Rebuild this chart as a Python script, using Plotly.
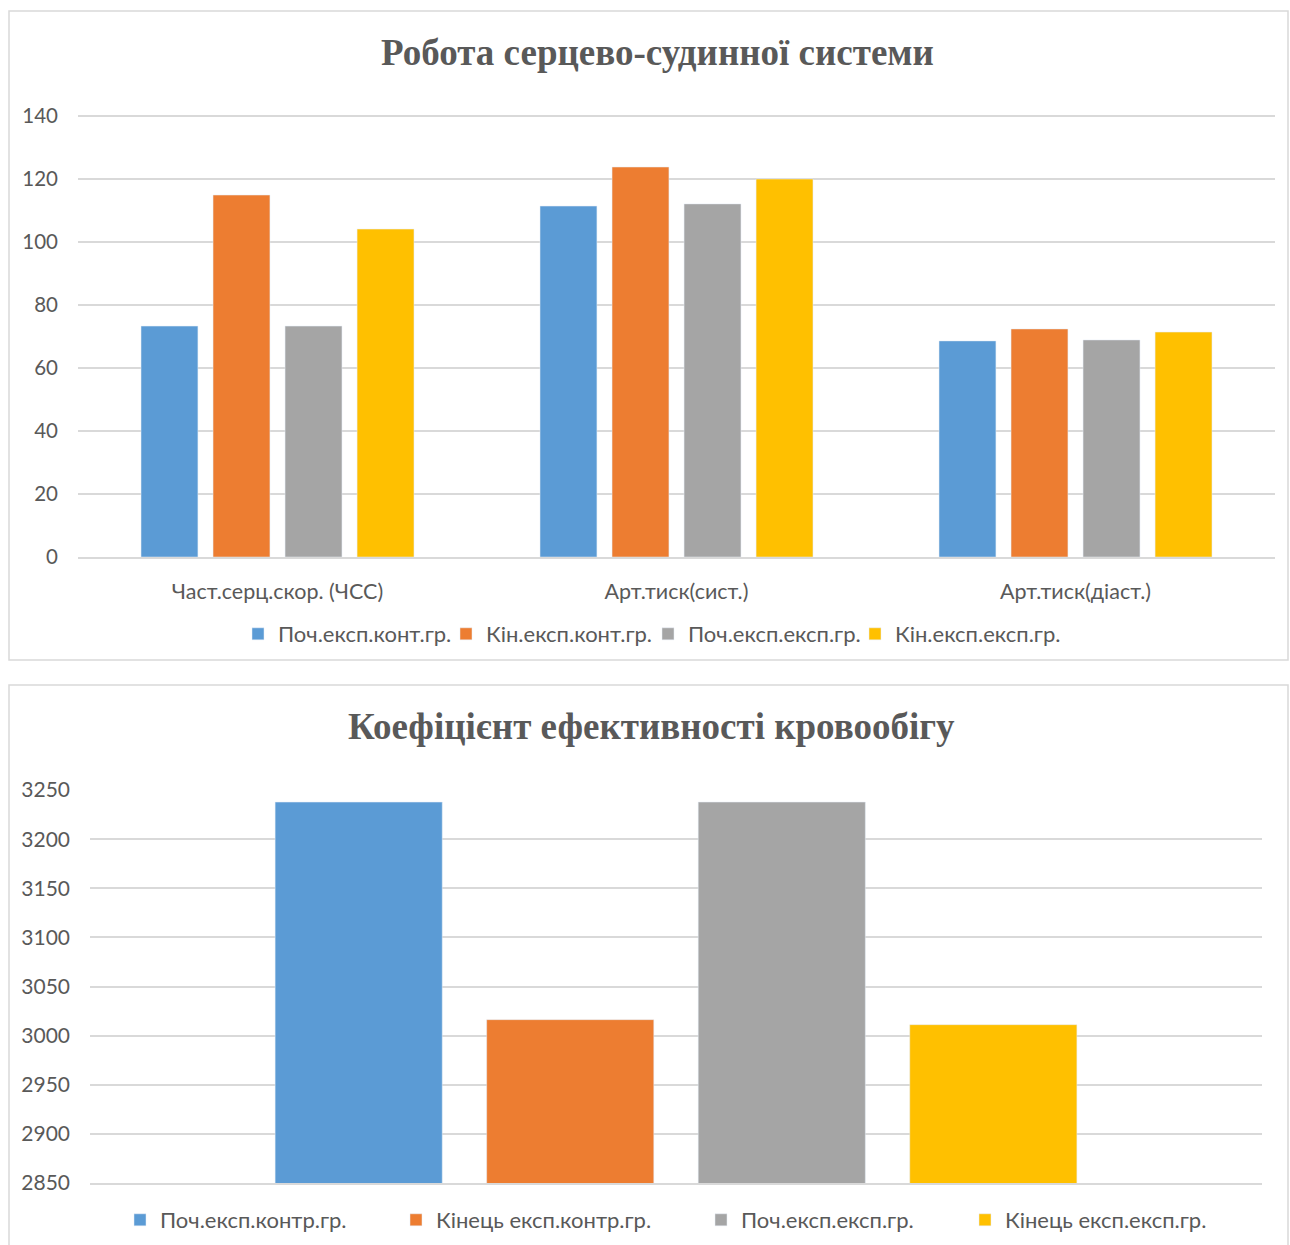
import plotly.graph_objects as go

W, H = 1290, 1245

# ---------- data ----------
title1 = "Робота серцево-судинної системи"
categories1 = ["Част.серц.скор. (ЧСС)", "Арт.тиск(сист.)", "Арт.тиск(діаст.)"]
series1_names = ["Поч.експ.конт.гр.", "Кін.експ.конт.гр.", "Поч.експ.експ.гр.", "Кін.експ.експ.гр."]
pocz_kont = [73.3, 111.4, 68.6]
kin_kont = [114.9, 123.8, 72.4]
pocz_eksp = [73.3, 112.1, 68.9]
kin_eksp = [104.1, 120.0, 71.4]
series1_values = [pocz_kont, kin_kont, pocz_eksp, kin_eksp]

title2 = "Коефіцієнт ефективності кровообігу"
category2 = ["КЕК"]
series2_names = ["Поч.експ.контр.гр.", "Кінець експ.контр.гр.", "Поч.експ.експ.гр.", "Кінець експ.експ.гр."]
kek_values = [3237.8, 3016.3, 3237.8, 3011.2]

colors = ["#5B9BD5", "#ED7D31", "#A5A5A5", "#FFC000"]
TXT = "#595959"
GRID = "#D9D9D9"
FONT = "Lato"

# legend text start positions (px) for each entry
legend1_text_x = [279, 487, 689, 896]
legend2_text_x = [161, 437, 742, 1006]


def px_x(p):
    return p / W


def px_y(p):
    return 1 - p / H


fig = go.Figure()
layout_legends = {}

for i, (name, vals, c) in enumerate(zip(series1_names, series1_values, colors)):
    lg = "legend" if i == 0 else f"legend{i + 1}"
    fig.add_trace(go.Bar(x=categories1, y=vals, name=name, marker_color=c,
                         xaxis="x", yaxis="y", legend=lg))
    layout_legends[lg] = dict(orientation="h", x=px_x(legend1_text_x[i] - 41), y=px_y(634),
                              xanchor="left", yanchor="middle",
                              font=dict(family=FONT, size=22, color=TXT), itemwidth=30,
                              bgcolor="rgba(0,0,0,0)")

for i, (name, v, c) in enumerate(zip(series2_names, kek_values, colors)):
    lg = f"legend{i + 5}"
    fig.add_trace(go.Bar(x=category2, y=[v], name=name, marker_color=c,
                         xaxis="x2", yaxis="y2", legend=lg))
    layout_legends[lg] = dict(orientation="h", x=px_x(legend2_text_x[i] - 41), y=px_y(1220),
                              xanchor="left", yanchor="middle",
                              font=dict(family=FONT, size=22, color=TXT), itemwidth=30,
                              bgcolor="rgba(0,0,0,0)")

fig.update_layout(
    width=W, height=H,
    margin=dict(l=0, r=0, t=0, b=0, autoexpand=False),
    paper_bgcolor="white", plot_bgcolor="white",
    barmode="group", bargap=0.278, bargroupgap=0.21,
    font=dict(family=FONT, color=TXT),
    xaxis=dict(domain=[px_x(78), px_x(1275)], anchor="y", showgrid=False, automargin=False,
               showline=True, linecolor=GRID, linewidth=1.5, ticks="",
               tickfont=dict(family=FONT, size=21.5, color=TXT), ticklabelstandoff=14),
    yaxis=dict(domain=[px_y(557), px_y(112.85)], anchor="x", range=[0, 141], dtick=20,
               showgrid=True, gridcolor=GRID, gridwidth=1.5, zeroline=False, automargin=False,
               showline=False, tickfont=dict(family=FONT, size=20.5, color=TXT),
               ticklabelstandoff=19),
    xaxis2=dict(domain=[px_x(90), px_x(1262)], anchor="y2", showgrid=False, automargin=False,
                showline=True, linecolor=GRID, linewidth=1.5, ticks="",
                showticklabels=False),
    yaxis2=dict(domain=[px_y(1183), px_y(790)], anchor="x2", range=[2850, 3250.1], dtick=50,
                showgrid=True, gridcolor=GRID, gridwidth=1.5, zeroline=False, automargin=False,
                showline=False, tickfont=dict(family=FONT, size=21, color=TXT),
                ticklabelstandoff=19),
    showlegend=True,
    **layout_legends,
)

fig.add_annotation(text=f"<b>{title1}</b>", x=px_x(658), y=px_y(52), xref="paper", yref="paper",
                   showarrow=False, xanchor="center", yanchor="middle",
                   font=dict(family="Liberation Serif", size=37, color=TXT))
fig.add_annotation(text=f"<b>{title2}</b>", x=px_x(651), y=px_y(726), xref="paper", yref="paper",
                   showarrow=False, xanchor="center", yanchor="middle",
                   font=dict(family="Liberation Serif", size=37, color=TXT))

# chart frames
fig.add_shape(type="rect", xref="paper", yref="paper",
              x0=px_x(9), x1=px_x(1288), y0=px_y(660), y1=px_y(11),
              line=dict(color=GRID, width=1.5), fillcolor="rgba(0,0,0,0)", layer="below")
fig.add_shape(type="rect", xref="paper", yref="paper",
              x0=px_x(9), x1=px_x(1288), y0=px_y(1260), y1=px_y(685),
              line=dict(color=GRID, width=1.5), fillcolor="rgba(0,0,0,0)", layer="below")

post = (
    "document.documentElement.style.margin='0';"
    "document.body.style.margin='0';"
    "document.body.style.overflow='hidden';"
    "var d=document.getElementById('{plot_id}');"
    "d.style.position='fixed';d.style.left='0px';d.style.top='0px';"
)

fig.write_html("out.html", config={"displayModeBar": False}, post_script=post)
